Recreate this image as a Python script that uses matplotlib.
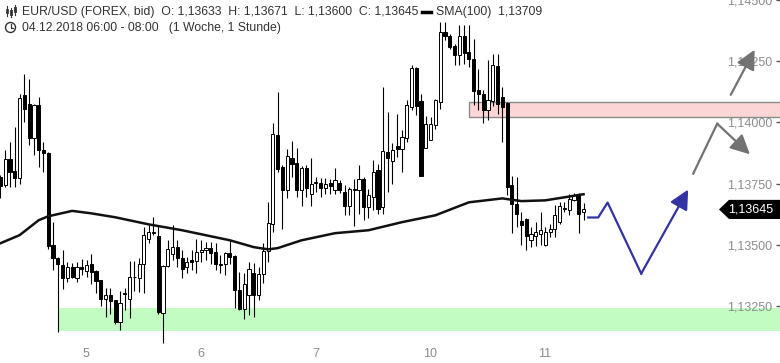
import numpy as np
import matplotlib
matplotlib.use("Agg")
import matplotlib.pyplot as plt
from matplotlib.patches import Rectangle, Polygon, Circle
from matplotlib.lines import Line2D
from matplotlib.transforms import IdentityTransform

plt.rcParams['font.family'] = ['Liberation Sans', 'DejaVu Sans']

# EUR/USD hourly candles (bid)
opens = [1.13777, 1.13743, 1.13852, 1.13801, 1.13775, 1.14113, 1.14077, 1.13938, 1.14070, 1.13886,
         1.13875, 1.13499, 1.13445, 1.13417, 1.13367, 1.13408, 1.13367, 1.13408, 1.13394, 1.13421,
         1.13394, 1.13356, 1.13279, 1.13295, 1.13274, 1.13186, 1.13301, 1.13279, 1.13368, 1.13367,
         1.13424, 1.13526, 1.13549, 1.13535, 1.13223, 1.13413, 1.13465, 1.13492, 1.13445, 1.13408,
         1.13440, 1.13435, 1.13471, 1.13478, 1.13489, 1.13471, 1.13421, 1.13421, 1.13467, 1.13454,
         1.13318, 1.13237, 1.13295, 1.13386, 1.13295, 1.13381, 1.13476, 1.13587, 1.13947, 1.13818,
         1.13726, 1.13856, 1.13834, 1.13726, 1.13816, 1.13710, 1.13753, 1.13753, 1.13734, 1.13753,
         1.13726, 1.13753, 1.13716, 1.13658, 1.13726, 1.13726, 1.13771, 1.13655, 1.13696, 1.13805,
         1.13655, 1.13878, 1.13842, 1.13902, 1.13893, 1.13936, 1.14063, 1.14223, 1.14087, 1.13896,
         1.13927, 1.13988, 1.14083, 1.14369, 1.14355, 1.14314, 1.14276, 1.14355, 1.14287, 1.14260,
         1.14131, 1.14117, 1.14049, 1.14087, 1.14229, 1.14106, 1.14079, 1.13743, 1.13669, 1.13598,
         1.13604, 1.13522, 1.13538, 1.13544, 1.13499, 1.13553, 1.13567, 1.13595, 1.13648, 1.13642,
         1.13685, 1.13703, 1.13633]
highs = [1.13784, 1.13886, 1.13920, 1.13981, 1.14117, 1.14196, 1.14179, 1.14077, 1.14106, 1.13920,
         1.13879, 1.13594, 1.13451, 1.13481, 1.13431, 1.13427, 1.13431, 1.13443, 1.13440, 1.13462,
         1.13397, 1.13356, 1.13326, 1.13326, 1.13277, 1.13312, 1.13326, 1.13434, 1.13435, 1.13445,
         1.13573, 1.13580, 1.13614, 1.13580, 1.13417, 1.13522, 1.13580, 1.13519, 1.13478, 1.13451,
         1.13478, 1.13526, 1.13519, 1.13512, 1.13512, 1.13508, 1.13458, 1.13471, 1.13522, 1.13458,
         1.13390, 1.13386, 1.13431, 1.13427, 1.13410, 1.13508, 1.13675, 1.13998, 1.14124, 1.13825,
         1.13893, 1.13923, 1.13896, 1.13821, 1.13825, 1.13856, 1.13777, 1.13775, 1.13775, 1.13771,
         1.13816, 1.13767, 1.13743, 1.13737, 1.13771, 1.13825, 1.13777, 1.13730, 1.13845, 1.13832,
         1.14144, 1.14044, 1.13916, 1.14036, 1.13968, 1.14090, 1.14233, 1.14226, 1.14115, 1.14025,
         1.14022, 1.14097, 1.14409, 1.14409, 1.14362, 1.14321, 1.14396, 1.14396, 1.14396, 1.14342,
         1.14219, 1.14131, 1.14256, 1.14281, 1.14281, 1.14144, 1.14083, 1.13780, 1.13777, 1.13635,
         1.13608, 1.13573, 1.13594, 1.13635, 1.13573, 1.13587, 1.13662, 1.13675, 1.13675, 1.13710,
         1.13712, 1.13712, 1.13671]
lows = [1.13690, 1.13737, 1.13737, 1.13737, 1.13750, 1.14002, 1.13907, 1.13866, 1.13818, 1.13798,
        1.13485, 1.13397, 1.13145, 1.13322, 1.13349, 1.13363, 1.13349, 1.13376, 1.13369, 1.13340,
        1.13302, 1.13250, 1.13206, 1.13217, 1.13179, 1.13152, 1.13234, 1.13200, 1.13312, 1.13308,
        1.13302, 1.13506, 1.13540, 1.13220, 1.13098, 1.13410, 1.13438, 1.13410, 1.13367, 1.13386,
        1.13397, 1.13386, 1.13431, 1.13438, 1.13424, 1.13397, 1.13386, 1.13376, 1.13424, 1.13241,
        1.13234, 1.13196, 1.13213, 1.13206, 1.13274, 1.13345, 1.13431, 1.13553, 1.13798, 1.13567,
        1.13693, 1.13777, 1.13696, 1.13658, 1.13696, 1.13658, 1.13716, 1.13696, 1.13710, 1.13710,
        1.13710, 1.13712, 1.13621, 1.13621, 1.13576, 1.13628, 1.13601, 1.13608, 1.13642, 1.13628,
        1.13628, 1.13716, 1.13750, 1.13859, 1.13798, 1.13920, 1.14049, 1.14029, 1.13780, 1.13894,
        1.13927, 1.13975, 1.14056, 1.14335, 1.14301, 1.14233, 1.14233, 1.14240, 1.14226, 1.14070,
        1.14049, 1.13998, 1.14011, 1.14066, 1.14036, 1.13920, 1.13703, 1.13547, 1.13573, 1.13499,
        1.13478, 1.13492, 1.13495, 1.13499, 1.13495, 1.13533, 1.13533, 1.13587, 1.13635, 1.13621,
        1.13679, 1.13547, 1.13600]
closes = [1.13739, 1.13852, 1.13798, 1.13775, 1.14101, 1.14056, 1.13938, 1.14070, 1.13889, 1.13875,
          1.13495, 1.13445, 1.13421, 1.13363, 1.13408, 1.13369, 1.13408, 1.13402, 1.13417, 1.13390,
          1.13353, 1.13279, 1.13295, 1.13272, 1.13186, 1.13265, 1.13303, 1.13369, 1.13371, 1.13424,
          1.13542, 1.13551, 1.13551, 1.13227, 1.13413, 1.13485, 1.13492, 1.13445, 1.13400, 1.13431,
          1.13429, 1.13471, 1.13481, 1.13489, 1.13467, 1.13424, 1.13420, 1.13467, 1.13449, 1.13318,
          1.13237, 1.13339, 1.13400, 1.13295, 1.13381, 1.13476, 1.13590, 1.13951, 1.13812, 1.13726,
          1.13862, 1.13832, 1.13726, 1.13816, 1.13734, 1.13748, 1.13754, 1.13734, 1.13750, 1.13742,
          1.13767, 1.13726, 1.13658, 1.13730, 1.13727, 1.13771, 1.13655, 1.13703, 1.13798, 1.13648,
          1.13883, 1.13856, 1.13886, 1.13891, 1.13940, 1.14070, 1.14223, 1.14066, 1.13780, 1.13992,
          1.13992, 1.14093, 1.14369, 1.14351, 1.14310, 1.14274, 1.14355, 1.14283, 1.14260, 1.14128,
          1.14117, 1.14049, 1.14090, 1.14233, 1.14077, 1.14063, 1.13737, 1.13669, 1.13628, 1.13580,
          1.13535, 1.13544, 1.13552, 1.13563, 1.13553, 1.13567, 1.13621, 1.13658, 1.13650, 1.13689,
          1.13703, 1.13628, 1.13645]

# SMA(100)
sma_idx = [0, 4, 8, 10, 15, 19, 24, 31, 38, 48, 53, 56, 58, 63, 70, 77, 84, 91, 98, 105, 109, 114, 122]
sma_val = [1.13507, 1.13540, 1.13601, 1.13617, 1.13639, 1.13629, 1.13613, 1.13584, 1.13560, 1.13519,
           1.13491, 1.13482, 1.13487, 1.13519, 1.13548, 1.13560, 1.13593, 1.13621, 1.13674, 1.13690,
           1.13679, 1.13682, 1.13707]

day_pos = [17.9, 41.9, 65.9, 89.9, 113.9]
day_labels = ['5', '6', '7', '10', '11']
price_ticks = [1.1325, 1.135, 1.1375, 1.14, 1.1425, 1.145]
price_labels = ['1,13250', '1,13500', '1,13750', '1,14000', '1,14250', '1,14500']

# zones: start index, lower, upper price
resist_zone = (98.0, 1.14021, 1.14082)
support_zone = (12.2, 1.13148, 1.13242)

# drawn projection paths
blue_x = [122.97, 125.06, 127.03, 134.06, 143.89]
blue_y = [1.13612, 1.13612, 1.13673, 1.13383, 1.13726]
gray1_x = [144.94, 149.96, 156.8]
gray1_y = [1.13791, 1.13995, 1.13870]
gray2_x = [152.8, 157.8]
gray2_y = [1.14113, 1.14297]

BLUE = '#3333a3'
GRAY = '#727272'
TXT = '#333333'

fig = plt.figure(figsize=(7.8, 3.63), dpi=100)
ax = fig.add_axes([0, 0, 1, 1])
ax.set_xlim(-0.1, 163.1)
ax.set_ylim(1.13018, 1.14498)
for s in ax.spines.values():
    s.set_visible(False)

# zones
ax.add_patch(Rectangle((support_zone[0], support_zone[1]), 200, support_zone[2] - support_zone[1],
                       facecolor='#c3fcc3', edgecolor='none', zorder=1))
ax.add_patch(Rectangle((resist_zone[0], resist_zone[1]), 200, resist_zone[2] - resist_zone[1],
                       facecolor='#fcd6d6', edgecolor='#8a8a8a', lw=1.0, zorder=1))

# candles
w = 0.66
for i, (o, h, l, c) in enumerate(zip(opens, highs, lows, closes)):
    ax.plot([i, i], [l, h], color='black', lw=0.8, zorder=3, solid_capstyle='butt')
    bottom = min(o, c)
    height = max(abs(c - o), 0.00003)
    fc = 'white' if c >= o else 'black'
    ax.add_patch(Rectangle((i - w / 2, bottom), w, height, facecolor=fc,
                           edgecolor='black', lw=0.7, zorder=4))

# SMA
ax.plot(sma_idx, sma_val, color='#111111', lw=1.8, zorder=5, solid_joinstyle='round')

# projections
arrow = dict(arrowstyle='-|>,head_length=0.9,head_width=0.45', lw=1.6,
             mutation_scale=13, shrinkA=0, shrinkB=0)
ax.plot(blue_x[:-1], blue_y[:-1], color=BLUE, lw=1.6, zorder=6)
ax.annotate('', xy=(blue_x[-1], blue_y[-1]), xytext=(blue_x[-2], blue_y[-2]),
            arrowprops=dict(arrow, color=BLUE), zorder=6)
ax.plot(gray1_x[:-1], gray1_y[:-1], color=GRAY, lw=1.6, zorder=6)
ax.annotate('', xy=(gray1_x[-1], gray1_y[-1]), xytext=(gray1_x[-2], gray1_y[-2]),
            arrowprops=dict(arrow, color=GRAY), zorder=6)
ax.annotate('', xy=(gray2_x[-1], gray2_y[-1]), xytext=(gray2_x[0], gray2_y[0]),
            arrowprops=dict(arrow, color=GRAY), zorder=6)

# axes ticks drawn inside the plot
ax.yaxis.set_ticks_position('right')
ax.set_yticks(price_ticks)
ax.set_yticklabels(price_labels)
ax.tick_params(axis='y', direction='in', length=3, width=1, color='#555555',
               pad=-5.5, labelsize=9, labelcolor='#8c8c8c')
for lbl in ax.get_yticklabels():
    lbl.set_horizontalalignment('right')
ax.set_xticks(day_pos)
ax.set_xticklabels(day_labels)
ax.tick_params(axis='x', direction='in', length=0, pad=-11, labelsize=9, labelcolor='#8c8c8c')

# current price tag
last = closes[-1]
hh = 0.00039
yt = ax.get_yaxis_transform()
ax.add_patch(Polygon([(719 / 780, last), (729 / 780, last + hh), (1.0, last + hh),
                      (1.0, last - hh), (729 / 780, last - hh)], closed=True,
                     facecolor='black', edgecolor='none', transform=yt, zorder=7))
ax.text(773 / 780, last, f"{last:.5f}".replace('.', ','), transform=yt, color='white',
        fontsize=9, ha='right', va='center', zorder=8)

# header
H = 363
fs = 8.8
fig.text(22 / 780, 1 - 11.5 / H,
         "EUR/USD (FOREX, bid)  O: 1,13633  H: 1,13671  L: 1,13600  C: 1,13645",
         fontsize=fs, color=TXT, va='center')
fig.text(436 / 780, 1 - 11.5 / H, "SMA(100)  1,13709", fontsize=fs, color=TXT, va='center')
fig.add_artist(Line2D([422, 431], [H - 12, H - 12], transform=IdentityTransform(),
                      color='black', lw=2.5))
fig.text(22 / 780, 1 - 27.5 / H, "04.12.2018 06:00 - 08:00   (1 Woche, 1 Stunde)",
         fontsize=fs, color=TXT, va='center')

# small candle icon
for cx, y0, y1, b0, b1, fill in [(7, 6, 16, 9, 13, False), (11, 8, 17, 10, 15, True),
                                 (15, 5, 15, 7, 12, True)]:
    fig.add_artist(Line2D([cx, cx], [H - y0, H - y1], transform=IdentityTransform(),
                          color=TXT, lw=0.8))
    fig.add_artist(Rectangle((cx - 1.3, H - b1), 2.6, b1 - b0, transform=IdentityTransform(),
                             facecolor=TXT if fill else 'white', edgecolor=TXT, lw=0.6))
# clock icon
fig.add_artist(Circle((10.5, H - 27.5), 5, transform=IdentityTransform(), facecolor='none',
                      edgecolor=TXT, lw=1.0))
fig.add_artist(Line2D([10.5, 10.5, 13], [H - 24, H - 27.5, H - 27.5], transform=IdentityTransform(),
                      color=TXT, lw=0.9))

fig.savefig('out.png', dpi=100)
